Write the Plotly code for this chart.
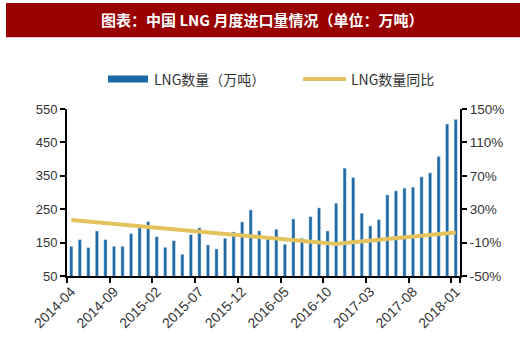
import plotly.graph_objects as go

months = [
    "2014-04", "2014-05", "2014-06", "2014-07", "2014-08", "2014-09", "2014-10", "2014-11", "2014-12",
    "2015-01", "2015-02", "2015-03", "2015-04", "2015-05", "2015-06", "2015-07", "2015-08", "2015-09",
    "2015-10", "2015-11", "2015-12", "2016-01", "2016-02", "2016-03", "2016-04", "2016-05", "2016-06",
    "2016-07", "2016-08", "2016-09", "2016-10", "2016-11", "2016-12", "2017-01", "2017-02", "2017-03",
    "2017-04", "2017-05", "2017-06", "2017-07", "2017-08", "2017-09", "2017-10", "2017-11", "2017-12",
    "2018-01",
]
volume = [
    139, 159, 135, 185, 159, 139, 139, 177, 195, 213, 168, 136, 156, 115, 174, 194,
    143, 131, 163, 182, 212, 248, 185, 161, 190, 145, 221, 163, 228, 254, 185, 268,
    373, 345, 238, 200, 219, 293, 305, 313, 316, 347, 359, 408, 505, 519,
]
yoy = [
    17.1, 16.2, 15.3, 14.3, 13.4, 12.5, 11.5, 10.6, 9.7, 8.8, 7.8, 6.9, 6.0, 5.1, 4.1, 3.2,
    2.3, 1.4, 0.4, -0.5, -1.4, -2.3, -3.3, -4.2, -5.1, -6.0, -7.0, -7.9, -8.8, -9.7, -10.7, -11.6,
    -10.6, -9.6, -8.7, -7.7, -6.7, -5.7, -4.7, -3.8, -2.8, -1.8, -0.8, 0.1, 1.1, 2.1,
]
x_tick_labels = ["2014-04", "2014-09", "2015-02", "2015-07", "2015-12",
                 "2016-05", "2016-10", "2017-03", "2017-08", "2018-01"]
left_ticks = [50, 150, 250, 350, 450, 550]
right_ticks = [-50, -10, 30, 70, 110, 150]

title_text = "<b>图表：中国 LNG 月度进口量情况（单位：万吨）</b>"
bar_name = "LNG数量（万吨）"
line_name = "LNG数量同比"

BAR_COLOR = "#1D69A6"
LINE_COLOR = "#E4C35F"
TITLE_BG = "#990000"
TEXT = "#333333"
FONT = "Liberation Sans, Noto Sans CJK SC, sans-serif"
CJK = "Noto Sans CJK SC, Liberation Sans, sans-serif"

W, H = 520, 343
ML, MR, MT, MB = 67, 60, 109, 64
PW, PH = W - ML - MR, H - MT - MB


def px(x):
    return (x - ML) / PW


def py(y):
    return (H - MB - y) / PH


fig = go.Figure()
fig.add_trace(go.Bar(x=months, y=volume, marker_color=BAR_COLOR, name=bar_name,
                     showlegend=False))
fig.add_trace(go.Scatter(x=months, y=yoy, yaxis="y2", mode="lines", name=line_name,
                         line=dict(color=LINE_COLOR, width=4), showlegend=False))

shapes = [
    dict(type="rect", xref="paper", yref="paper", x0=px(6), x1=px(520), y0=py(36), y1=py(1),
         fillcolor=TITLE_BG, line=dict(width=0), layer="below"),
    dict(type="rect", xref="paper", yref="paper", x0=px(108), x1=px(148), y0=py(82), y1=py(75),
         fillcolor=BAR_COLOR, line=dict(width=0)),
    dict(type="line", xref="paper", yref="paper", x0=px(303), x1=px(346), y0=py(78.5), y1=py(78.5),
         line=dict(color=LINE_COLOR, width=4)),
]
annotations = [
    dict(text=title_text, xref="paper", yref="paper", x=px(262), y=py(18), showarrow=False,
         xanchor="center", yanchor="middle", font=dict(family=CJK, size=15, color="white")),
    dict(text=bar_name, xref="paper", yref="paper", x=px(152), y=py(78.5), showarrow=False,
         xanchor="left", yanchor="middle", font=dict(family=CJK, size=14, color=TEXT)),
    dict(text=line_name, xref="paper", yref="paper", x=px(349), y=py(78.5), showarrow=False,
         xanchor="left", yanchor="middle", font=dict(family=CJK, size=14, color=TEXT)),
]

fig.update_layout(
    width=W, height=H,
    margin=dict(l=ML, r=MR, t=MT, b=MB, pad=0),
    paper_bgcolor="white", plot_bgcolor="white",
    bargap=0.62,
    font=dict(family=FONT, size=13, color=TEXT),
    shapes=shapes, annotations=annotations,
    xaxis=dict(type="category", range=[-0.5, len(months) - 0.5],
               tickmode="array", tickvals=x_tick_labels, ticktext=x_tick_labels,
               tickson="boundaries", ticks="outside", ticklen=5, tickwidth=2, tickcolor="black",
               showline=True, linecolor="black", linewidth=2, showgrid=False,
               tickangle=-45, tickfont=dict(size=14, color=TEXT)),
    yaxis=dict(range=[50, 550], tickvals=left_ticks, ticks="outside", ticklen=5, tickwidth=2,
               tickcolor="black", showline=True, linecolor="black", linewidth=2,
               showgrid=False, zeroline=False, tickfont=dict(size=13, color=TEXT)),
    yaxis2=dict(range=[-50, 150], tickvals=right_ticks, ticktext=[f"{v}%" for v in right_ticks],
                overlaying="y", side="right", ticks="outside", ticklen=5, tickwidth=2,
                tickcolor="black", showline=True, linecolor="black", linewidth=2,
                showgrid=False, zeroline=False, tickfont=dict(size=13.5, color=TEXT)),
)

fig.write_html("out.html")
